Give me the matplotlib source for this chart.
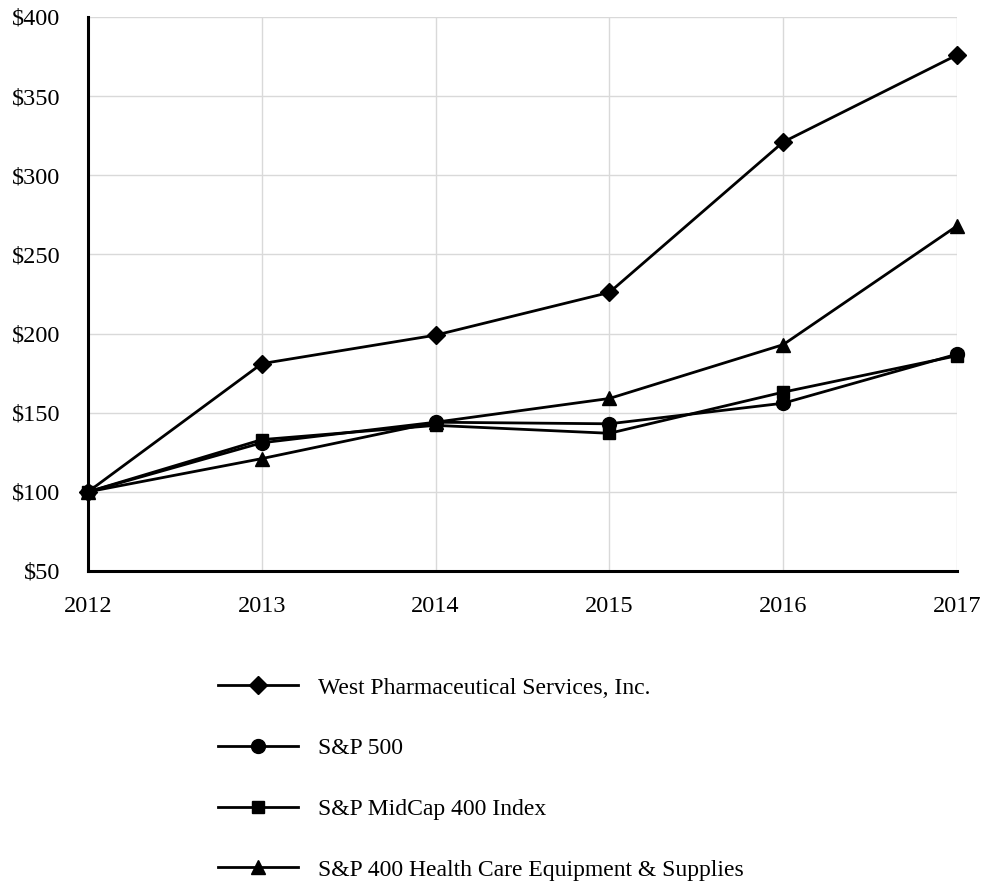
import numpy as np
import matplotlib.pyplot as plt

plt.rcParams['font.family'] = ['Liberation Serif', 'DejaVu Serif']

years = [2012, 2013, 2014, 2015, 2016, 2017]
west = [100, 181, 199, 226, 321, 376]
sp500 = [100, 131, 144, 143, 156, 187]
midcap = [100, 133, 142, 137, 163, 186]
health = [100, 121, 144, 159, 193, 268]
labels = ["West Pharmaceutical Services, Inc.", "S&P 500",
          "S&P MidCap 400 Index", "S&P 400 Health Care Equipment & Supplies"]
yticks = [50, 100, 150, 200, 250, 300, 350, 400]

fig = plt.figure(figsize=(9.85, 8.92), dpi=100)
ax = fig.add_axes([88/985, 1-571/892, (957-88)/985, (571-17)/892])

series = [(west, 'D', 9), (sp500, 'o', 10), (midcap, 's', 8.5), (health, '^', 10)]
for (vals, mk, ms), lab in zip(series, labels):
    ax.plot(years, vals, color='black', lw=2, marker=mk, markersize=ms,
            label=lab, clip_on=False, zorder=3)

ax.set_xlim(2012, 2017)
ax.set_ylim(50, 400)
ax.set_xticks(years)
ax.set_yticks(yticks)
ax.set_yticklabels(["$%d" % v for v in yticks])
ax.grid(True, color='#d9d9d9', lw=1)
ax.set_axisbelow(True)
for s in ['top', 'right']:
    ax.spines[s].set_visible(False)
for s in ['left', 'bottom']:
    ax.spines[s].set_linewidth(2.2)
ax.tick_params(length=0, labelsize=17.5)
ax.tick_params(axis='y', pad=20)
ax.tick_params(axis='x', pad=18)

fig.legend(loc='upper left', bbox_to_anchor=(218/985, 1-677/892), frameon=False,
           fontsize=17, handlelength=3.4, handletextpad=0.85, labelspacing=1.66,
           borderpad=0, borderaxespad=0)

fig.savefig("out.png", dpi=100)
